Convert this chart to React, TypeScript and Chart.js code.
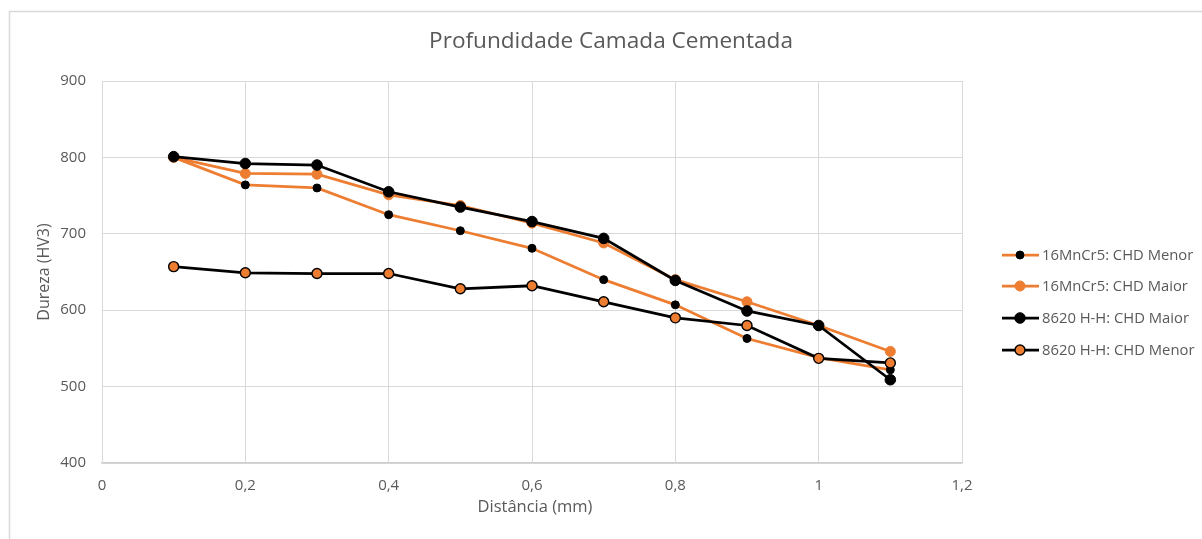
import React, { useEffect, useRef } from "react";
import { Chart, registerables } from "chart.js";

Chart.register(...registerables);

// Distance from the surface (mm)
const distances = [0.1, 0.2, 0.3, 0.4, 0.5, 0.6, 0.7, 0.8, 0.9, 1.0, 1.1];

// Hardness profiles (HV3)
const mncrMenor = [800, 764, 760, 725, 704, 681, 640, 607, 563, 538, 522];
const mncrMaior = [800, 779, 778, 751, 737, 714, 688, 640, 611, 580, 546];
const hh8620Maior = [801, 792, 790, 755, 735, 716, 694, 639, 599, 580, 509];
const hh8620Menor = [657, 649, 648, 648, 628, 632, 611, 590, 580, 537, 531];

const seriesNames = [
  "16MnCr5: CHD Menor",
  "16MnCr5: CHD Maior",
  "8620 H-H: CHD Maior",
  "8620 H-H: CHD Menor",
];

const chartTitle = "Profundidade Camada Cementada";
const xTitle = "Distância (mm)";
const yTitle = "Dureza (HV3)";

const ORANGE = "#ED7D31";
const BLACK = "#000000";
const TEXT = "#595959";
const GRID = "#d9d9d9";
const FONT = "'Open Sans', sans-serif";

type Style = {
  line: string;
  fill: string;
  stroke: string;
  radius: number;
  markerBorder: number;
};

const styles: Style[] = [
  { line: ORANGE, fill: BLACK, stroke: BLACK, radius: 4, markerBorder: 1 },
  { line: ORANGE, fill: ORANGE, stroke: ORANGE, radius: 5, markerBorder: 1 },
  { line: BLACK, fill: BLACK, stroke: BLACK, radius: 5.3, markerBorder: 1 },
  { line: BLACK, fill: ORANGE, stroke: BLACK, radius: 5, markerBorder: 1.4 },
];

const seriesValues = [mncrMenor, mncrMaior, hh8620Maior, hh8620Menor];

const decorations = {
  id: "decorations",
  beforeDraw(chart: Chart) {
    const ctx = chart.ctx;
    ctx.save();
    ctx.fillStyle = "#ffffff";
    ctx.fillRect(0, 0, chart.width, chart.height);
    ctx.strokeStyle = GRID;
    ctx.lineWidth = 1.5;
    ctx.strokeRect(9.5, 11.5, chart.width + 20, chart.height + 20);
    ctx.restore();
  },
  afterDraw(chart: Chart) {
    const ctx = chart.ctx;
    const area = chart.chartArea;
    ctx.save();
    ctx.fillStyle = TEXT;
    ctx.textAlign = "center";
    ctx.textBaseline = "middle";

    ctx.font = `22.6px ${FONT}`;
    ctx.fillText(chartTitle, 611, 42);

    ctx.font = `16.5px ${FONT}`;
    ctx.fillText(xTitle, 535, 507);

    ctx.font = `16px ${FONT}`;
    ctx.save();
    ctx.translate(44, (area.top + area.bottom) / 2);
    ctx.rotate(-Math.PI / 2);
    ctx.fillText(yTitle, 0, 0);
    ctx.restore();

    // legend
    const rows = [255, 286, 318, 350];
    ctx.textAlign = "left";
    ctx.font = `14.8px ${FONT}`;
    seriesNames.forEach((name, i) => {
      const s = styles[i];
      const y = rows[i];
      ctx.strokeStyle = s.line;
      ctx.lineWidth = 2.75;
      ctx.beginPath();
      ctx.moveTo(1002, y);
      ctx.lineTo(1039, y);
      ctx.stroke();
      ctx.beginPath();
      ctx.arc(1020, y, s.radius, 0, Math.PI * 2);
      ctx.fillStyle = s.fill;
      ctx.fill();
      ctx.lineWidth = s.markerBorder;
      ctx.strokeStyle = s.stroke;
      ctx.stroke();
      ctx.fillStyle = TEXT;
      ctx.fillText(name, 1042, y + 1);
    });
    ctx.restore();
  },
};

function formatTick(v: number | string): string {
  const n = Number(Number(v).toFixed(1));
  return String(n).replace(".", ",");
}

export default function App() {
  const canvasRef = useRef<HTMLCanvasElement | null>(null);

  useEffect(() => {
    if (!canvasRef.current) return;
    const datasets = seriesNames.map((name, i) => {
      const s = styles[i];
      return {
        label: name,
        data: distances.map((d, j) => ({ x: d, y: seriesValues[i][j] })),
        borderColor: s.line,
        backgroundColor: s.fill,
        borderWidth: 2.75,
        pointRadius: s.radius,
        pointBackgroundColor: s.fill,
        pointBorderColor: s.stroke,
        pointBorderWidth: s.markerBorder,
        tension: 0,
        order: seriesNames.length - 1 - i,
      };
    });

    const chart = new Chart(canvasRef.current, {
      type: "line",
      data: { datasets },
      plugins: [decorations],
      options: {
        animation: false,
        responsive: false,
        devicePixelRatio: 1,
        layout: { padding: { left: 0, top: 81, right: 240, bottom: 0 } },
        plugins: {
          legend: { display: false },
          title: { display: false },
          tooltip: { enabled: false },
        },
        scales: {
          x: {
            type: "linear",
            min: 0,
            max: 1.2,
            ticks: {
              stepSize: 0.2,
              color: TEXT,
              font: { family: FONT, size: 15 },
              padding: 14,
              callback: (v) => formatTick(v),
            },
            grid: { color: GRID, lineWidth: 1, drawTicks: false },
            border: { color: "#cfcfcf", width: 1.5 },
            afterFit: (scale: any) => {
              scale.height = 76;
            },
          },
          y: {
            type: "linear",
            min: 400,
            max: 900,
            ticks: {
              stepSize: 100,
              color: TEXT,
              font: { family: FONT, size: 15 },
              padding: 16,
            },
            grid: { color: GRID, lineWidth: 1, drawTicks: false },
            border: { color: GRID, width: 1 },
            afterFit: (scale: any) => {
              scale.width = 102;
            },
          },
        },
      },
    });
    return () => chart.destroy();
  }, []);

  return (
    <div
      style={{
        position: "absolute",
        left: 0,
        top: 0,
        width: 1202,
        height: 539,
        background: "#ffffff",
        overflow: "hidden",
      }}
    >
      <canvas ref={canvasRef} width={1202} height={539} style={{ display: "block" }} />
    </div>
  );
}
